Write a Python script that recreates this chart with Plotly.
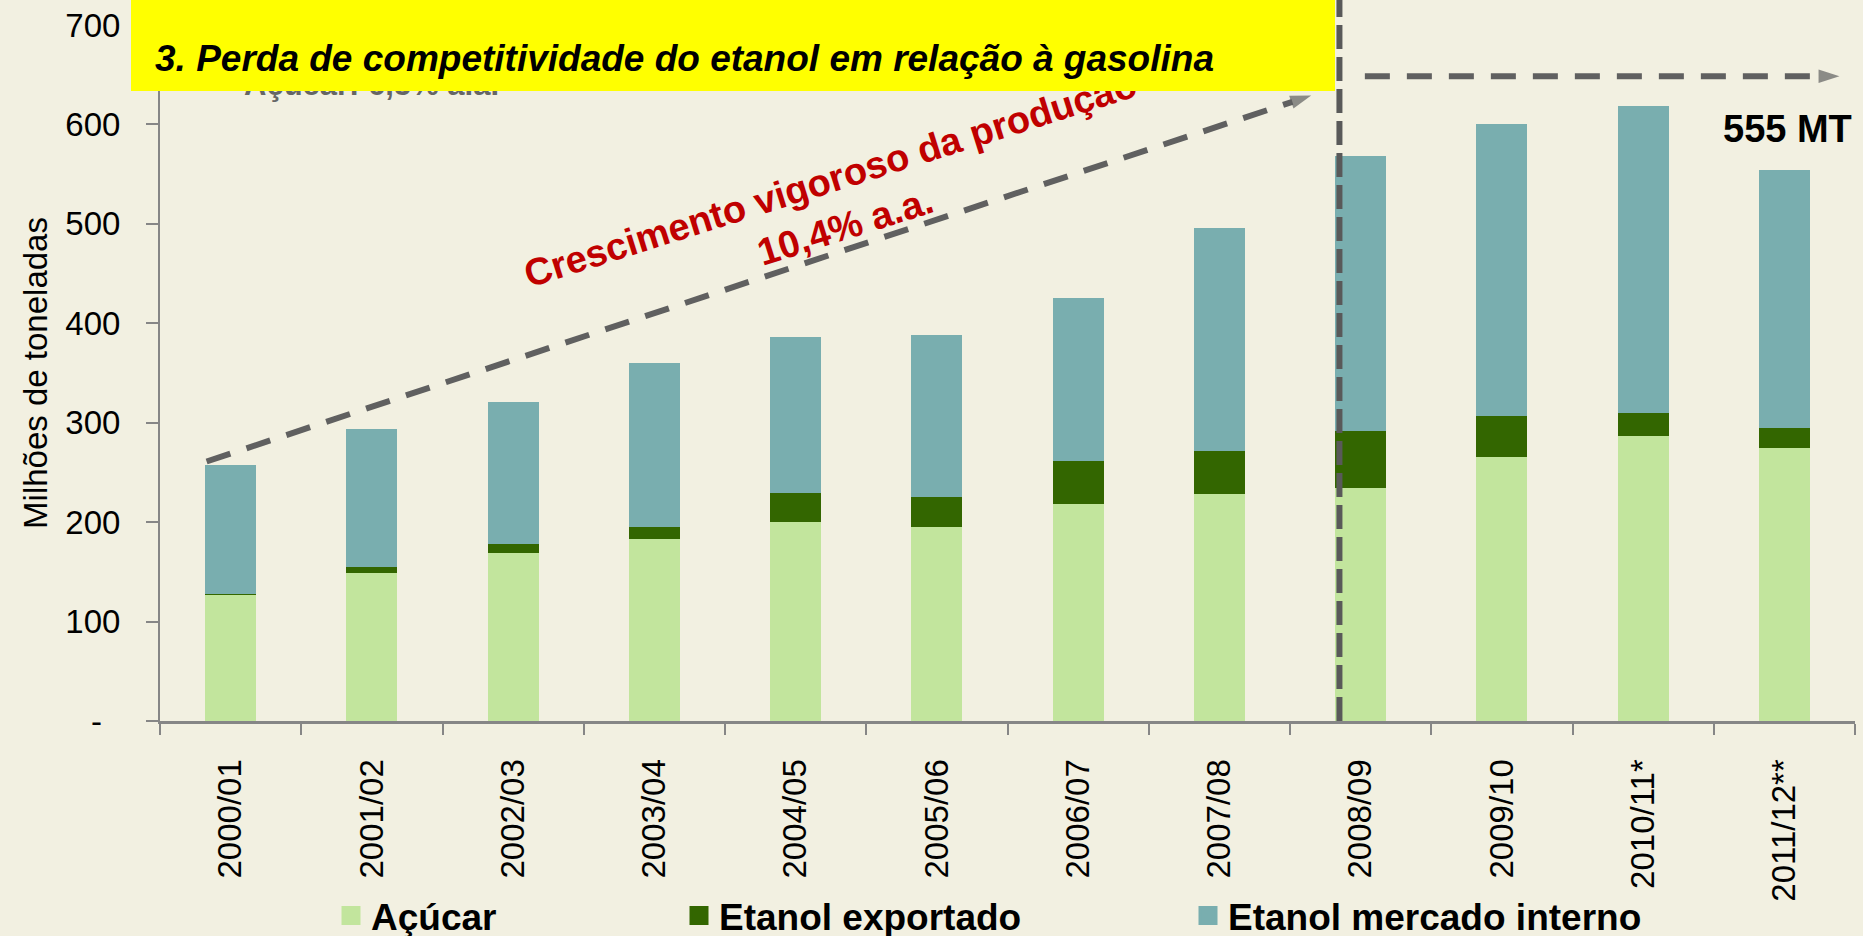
import plotly.graph_objects as go

# ---------------- data ----------------
categories = ["2000/01", "2001/02", "2002/03", "2003/04", "2004/05", "2005/06",
              "2006/07", "2007/08", "2008/09", "2009/10", "2010/11*", "2011/12**"]
acucar = [127, 149, 169, 183, 200, 195, 218, 228, 234, 266, 287, 275]
etanol_exportado = [1, 6, 9, 12, 29, 30, 43, 44, 58, 41, 23, 20]
etanol_interno = [129, 138.5, 142.6, 164.8, 156.9, 162.9, 164.1, 223.5, 276.3, 293.5, 308.4, 259.5]

y_tickvals = [0, 100, 200, 300, 400, 500, 600, 700]
y_ticktext = ["-\u00a0\u00a0", "100", "200", "300", "400", "500", "600", "700"]

series_names = ["Açúcar", "Etanol exportado", "Etanol mercado interno"]
series_colors = ["#C2E59D", "#336600", "#79AEAF"]

# annotation geometry (data units)
diag_arrow_x = [-0.17, 7.65]
diag_arrow_y = [261, 629]
horiz_arrow_x = [8.03, 11.39]
horiz_arrow_y = [648.5, 648.5]
split_x = 7.85

FONT = "Liberation Sans, Arial, sans-serif"
BG = "#F2F0E1"
AXIS_GRAY = "#868686"
DASH_GRAY = "#606060"

W, H = 1863, 936
ML, MR, MT, MB = 160, 8, 25, 215
PW = W - ML - MR
PH = H - MT - MB


def px_x(px):
    return (px - ML) / PW


def px_y(py):
    return (H - MB - py) / PH


fig = go.Figure()

for name, vals, col in zip(series_names, [acucar, etanol_exportado, etanol_interno], series_colors):
    fig.add_trace(go.Bar(x=list(range(len(categories))), y=vals, name=name,
                         marker=dict(color=col, line=dict(width=0)),
                         width=0.36, showlegend=False))

# dashed arrows
for xs, ys in [(diag_arrow_x, diag_arrow_y), (horiz_arrow_x, horiz_arrow_y)]:
    fig.add_trace(go.Scatter(x=xs, y=ys, mode="lines+markers", showlegend=False,
                             hoverinfo="skip",
                             line=dict(color=DASH_GRAY, width=6, dash="25px,17px"),
                             marker=dict(symbol="arrow", angleref="previous",
                                         size=[0, 22], color=DASH_GRAY,
                                         line=dict(width=0))))

# legend proxies (three separate legends)
legend_ids = ["legend", "legend2", "legend3"]
for name, col, lid in zip(series_names, series_colors, legend_ids):
    fig.add_trace(go.Scatter(x=[None], y=[None], mode="markers", name=name,
                             legend=lid,
                             marker=dict(symbol="square", size=16, color=col,
                                         line=dict(color=col, width=3))))

legend_style = dict(orientation="h", xanchor="left", yanchor="middle",
                    bgcolor="rgba(0,0,0,0)", borderwidth=0,
                    font=dict(family=FONT, size=37, color="#000000", weight="bold"),
                    itemsizing="trace")
legend_left_px = [331, 679, 1188]
leg_y = px_y(916)

# vertical dashed split line
shapes = [dict(type="line", xref="x", yref="paper", x0=split_x, x1=split_x,
               y0=0, y1=1 + MT / PH + 0.01, layer="above",
               line=dict(color="#595959", width=6, dash="24px,8px"))]

annotations = [
    # partially hidden text behind yellow box
    dict(text="Açúcar: 6,5% a.a.", xref="paper", yref="paper",
         x=px_x(242), y=px_y(84), xanchor="left", yanchor="middle", showarrow=False,
         font=dict(family=FONT, size=31, color="#666666", weight="bold")),
    # red rotated text
    dict(text="Crescimento vigoroso da produção<br>10,4% a.a.", xref="x", yref="y",
         x=4.3, y=521, xanchor="center", yanchor="middle", showarrow=False,
         textangle=-17.5, align="center",
         font=dict(family=FONT, size=38, color="#C00000", weight="bold")),
    # yellow box
    dict(text="\u00a0", xref="paper", yref="paper",
         x=px_x(131), y=px_y(0), xanchor="left", yanchor="top", showarrow=False,
         width=1204, height=91, bgcolor="#FFFF00", borderpad=0, borderwidth=0,
         font=dict(family=FONT, size=10)),
    # title text
    dict(text="3. Perda de competitividade do etanol em relação à gasolina",
         xref="paper", yref="paper", x=px_x(153), y=px_y(58),
         xanchor="left", yanchor="middle", showarrow=False,
         font=dict(family=FONT, size=37, color="#000000", weight="bold", style="italic")),
    # 555 MT
    dict(text="555 MT", xref="x", yref="y", x=11.02, y=595,
         xanchor="center", yanchor="middle", showarrow=False,
         font=dict(family=FONT, size=38, color="#000000", weight="bold")),
]

layout_kwargs = dict(
    width=W, height=H, autosize=False,
    margin=dict(l=ML, r=MR, t=MT, b=MB, autoexpand=False),
    paper_bgcolor=BG, plot_bgcolor=BG,
    barmode="stack", bargap=0,
    font=dict(family=FONT, color="#000000"),
    xaxis=dict(range=[-0.5, len(categories) - 0.5], tickmode="array",
               tickvals=list(range(len(categories))), ticktext=categories,
               tickangle=-90, ticks="", showgrid=False, zeroline=False,
               showline=True, linecolor=AXIS_GRAY, linewidth=3,
               automargin=False,
               tickfont=dict(family=FONT, size=33, color="#000000"),
               ticklabelstandoff=22,
               minor=dict(tickmode="array",
                          tickvals=[i - 0.5 for i in range(len(categories) + 1)],
                          ticks="outside", ticklen=11, tickwidth=2,
                          tickcolor=AXIS_GRAY, showgrid=False)),
    yaxis=dict(range=[0, 700], tickmode="array", tickvals=y_tickvals,
               ticktext=y_ticktext, ticks="outside", ticklen=12, tickwidth=2,
               tickcolor=AXIS_GRAY, showgrid=False, zeroline=False,
               showline=True, linecolor=AXIS_GRAY, linewidth=2,
               automargin=False,
               tickfont=dict(family=FONT, size=33, color="#000000"),
               ticklabelstandoff=19,
               title=dict(text="Milhões de toneladas", standoff=8,
                          font=dict(family=FONT, size=33, color="#000000"))),
    shapes=shapes,
    annotations=annotations,
)
for lid, lx in zip(legend_ids, legend_left_px):
    layout_kwargs[lid] = dict(legend_style, x=px_x(lx), y=leg_y)

fig.update_layout(**layout_kwargs)

fig.write_html(
    "out.html",
    config={"displayModeBar": False},
    post_script=("document.body.style.margin='0';"
                 "document.body.style.overflow='hidden';"
                 "document.body.style.background='" + BG + "';"),
)
